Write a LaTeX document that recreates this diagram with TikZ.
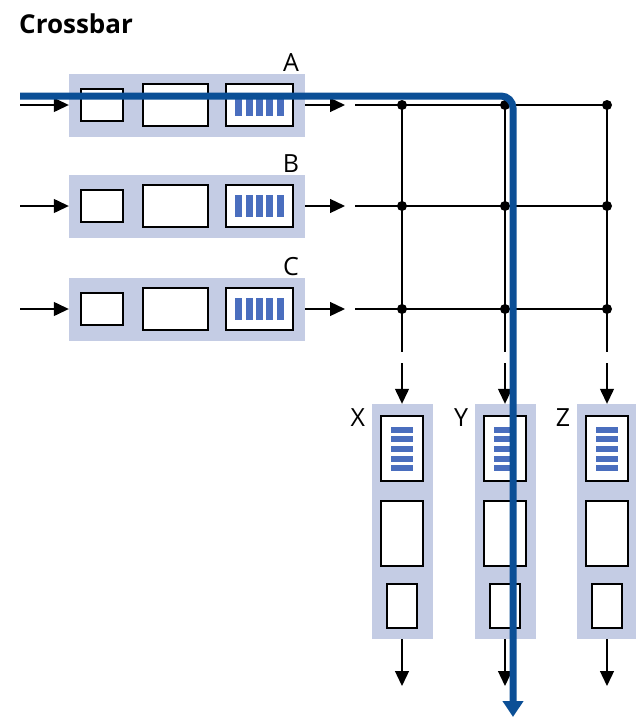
\documentclass[tikz,border=0pt]{standalone}
\usepackage{fontspec}
\setmainfont{Open Sans}
\usetikzlibrary{calc}
\usetikzlibrary{positioning}
\usetikzlibrary{arrows.meta}
\definecolor{portbg}{HTML}{C4CCE4}
\definecolor{slotblue}{HTML}{4A6EBE}
\definecolor{routeblue}{HTML}{0B4F96}
\tikzstyle{port} = [fill=portbg, draw=none, inner sep=0]
\tikzstyle{buf} = [draw=black, fill=white, line width=1.3pt, inner sep=0]
\tikzstyle{slot} = [fill=slotblue, draw=none, inner sep=0]
\tikzstyle{wire} = [line width=1.3pt]
\tikzstyle{arrow} = [wire, -{Triangle[length=15pt,width=14pt]}]
\tikzstyle{junction} = [circle, fill=black, inner sep=0, minimum size=10pt]
\tikzstyle{route} = [line width=7pt, draw=routeblue, rounded corners=12pt,
  -{Triangle[length=16pt,width=20pt]}]
\tikzstyle{lbl} = [inner sep=0, font=\fontsize{25}{30}\selectfont]

\begin{document}
\begin{tikzpicture}[x=1pt,y=-1pt]
\useasboundingbox (0,0) rectangle (636,718);
\node[lbl, font=\fontsize{26}{30}\selectfont\bfseries, anchor=base west] (title) at (19,33) {Crossbar};

% input ports A, B, C
\foreach \n/\y in {A/105,B/206,C/309} {
  \node[port, minimum width=236pt, minimum height=63pt] (in\n) at (187,\y) {};
  \node[buf, minimum width=42pt, minimum height=32pt] (in\n-a) at (102,\y) {};
  \node[buf, minimum width=65pt, minimum height=42pt] (in\n-b) at (175.5,\y) {};
  \node[buf, minimum width=67pt, minimum height=42pt] (in\n-q) at (259.5,\y) {};
  \foreach \i in {-2,...,2}
    \node[slot, minimum width=7pt, minimum height=22pt] (in\n-s\i) at ($(in\n-q)+(\i*10.4,0)$) {};
  \node[lbl, anchor=base east] (lbl\n) at ([xshift=-6pt,yshift=2pt]in\n.north east) {\n};
  \coordinate (src\n) at (20,\y);
  \coordinate (tap\n) at (345,\y);
  \coordinate (row\n) at (355,\y);
  \draw[arrow] (src\n) -- (in\n.west);
  \draw[arrow] (in\n.east) -- (tap\n);
  % crosspoints
  \foreach \c/\x in {X/402,Y/505,Z/607}
    \node[junction] (\n\c) at (\x,\y) {};
  \draw[wire] (row\n) -- (\n Z.center);
}

% output ports X, Y, Z
\foreach \c/\x in {X/402,Y/505,Z/607} {
  \node[port, minimum width=61pt, minimum height=235pt] (out\c) at (\x,521.5) {};
  \node[buf, minimum width=42pt, minimum height=65pt] (out\c-q) at (\x,448.5) {};
  \foreach \i in {-2,...,2}
    \node[slot, minimum width=22pt, minimum height=6pt] (out\c-s\i) at (\x,{449+\i*9.7}) {};
  \node[buf, minimum width=42pt, minimum height=65pt] (out\c-b) at (\x,533.5) {};
  \node[buf, minimum width=30pt, minimum height=44pt] (out\c-a) at (\x,606) {};
  \node[lbl, anchor=base east] (lbl\c) at ([xshift=-6pt,yshift=-23pt]out\c.north west) {\c};
  \coordinate (drop\c) at (\x,352);
  \coordinate (feed\c) at (\x,363);
  \coordinate (sink\c) at (\x,686);
  \draw[wire] (A\c.center) -- (drop\c);
  \draw[arrow] (feed\c) -- (out\c.north);
  \draw[arrow] (out\c.south) -- (sink\c);
}

% path of one packet A -> Y
\coordinate (entry) at (20,96);
\coordinate (exit) at (513,717);
\draw[route] (entry) -| (exit);
\end{tikzpicture}
\end{document}
